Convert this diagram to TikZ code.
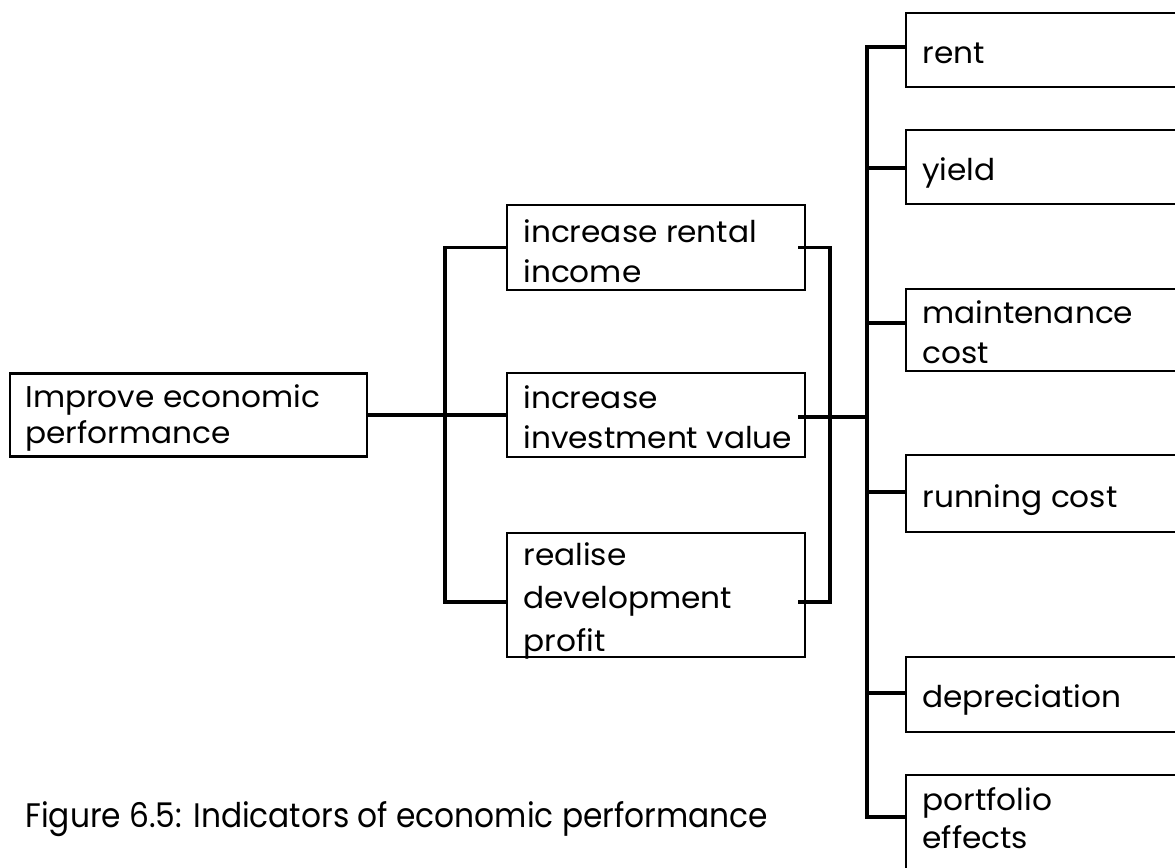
\documentclass[tikz,border=0pt]{standalone}
\usepackage{fontspec}
\setmainfont{Poppins}[FakeStretch=1.04]
\newfontfamily\capfont{Poppins}[FakeStretch=0.92]
\usetikzlibrary{calc}
\begin{document}
\begin{tikzpicture}[x=0.5pt,y=-0.5pt,
  box/.style={draw, line width=1.4pt, rectangle, inner sep=0pt},
  wire/.style={line width=1.6pt},
  lbl/.style={anchor=base west, inner sep=0pt, align=left,
    font=\fontsize{15}{20}\selectfont},
]
\clip (0,0) rectangle (1175,868);

% goal
\node[box, minimum width=178.5pt, minimum height=41.5pt] (root) at (188.5,415) {};
% means
\node[box, minimum width=149pt, minimum height=42.5pt] (b1) at (656,247.5) {};
\node[box, minimum width=149pt, minimum height=42pt] (b2) at (656,415) {};
\node[box, minimum width=149pt, minimum height=62pt] (b3) at (656,595) {};
% indicators
\node[box, minimum width=147pt, minimum height=37pt] (rent) at (1053,50) {};
\node[box, minimum width=147pt, minimum height=37pt] (yield) at (1053,167) {};
\node[box, minimum width=147pt, minimum height=41pt] (maint) at (1053,330) {};
\node[box, minimum width=147pt, minimum height=38.5pt] (run) at (1053,493.5) {};
\node[box, minimum width=147pt, minimum height=37.5pt] (depr) at (1053,694.5) {};
\node[box, minimum width=147pt, minimum height=62.5pt] (port) at (1053,837.5) {};

% labels (anchored at the baseline of their last line)
\node[lbl, font=\fontsize{15}{18}\selectfont] (troot) at (25,443) {Improve economic\\performance};
\node[lbl] (tb1) at (523,282) {increase rental\\income};
\node[lbl] (tb2) at (523,448) {increase\\investment value};
\node[lbl, font=\fontsize{15}{21.5}\selectfont] (tb3) at (523,651) {realise\\development\\profit};
\node[lbl] (trent) at (922,63) {rent};
\node[lbl] (tyield) at (922,180) {yield};
\node[lbl] (tmaint) at (922,363) {maintenance\\cost};
\node[lbl] (trun) at (922,507) {running cost};
\node[lbl] (tdepr) at (922,707) {depreciation};
\node[lbl, font=\fontsize{15}{19}\selectfont] (tport) at (922,848) {portfolio\\effects};

\node[anchor=base west, inner sep=0pt, font=\capfont\fontsize{17}{20}\selectfont] (caption) at (25,827) {Figure 6.5: Indicators of economic performance};

% bus junctions
\coordinate (lbus) at (445,0);
\coordinate (mbus) at (830,0);
\coordinate (rbus) at (867,417);

% goal to means
\draw[wire] (root.east) -- (b2.west);
\draw[wire] (b1.west) -| (lbus |- b1.west) |- ($(b3.west)+(0,7)$);

% means to indicators
\draw[wire] ($(b1.east)+(-8,0)$) -| (mbus |- b1.west) |- ($(b3.east)+(-8,7)$);
\draw[wire] ($(b2.east)+(-8,2)$) -- (rbus);

% indicator bus
\draw[wire] ($(rent.west)+(0,-3)$) -| (rbus) |- ($(port.west)+(0,-20.5)$);
\draw[wire] ($(yield.west)+(0,1)$) -- ($(rbus |- yield.west)+(0,1)$);
\draw[wire] ($(maint.west)+(0,-7)$) -- ($(rbus |- maint.west)+(0,-7)$);
\draw[wire] ($(run.west)+(0,-1.5)$) -- ($(rbus |- run.west)+(0,-1.5)$);
\draw[wire] ($(depr.west)+(0,-1.5)$) -- ($(rbus |- depr.west)+(0,-1.5)$);
\end{tikzpicture}
\end{document}
